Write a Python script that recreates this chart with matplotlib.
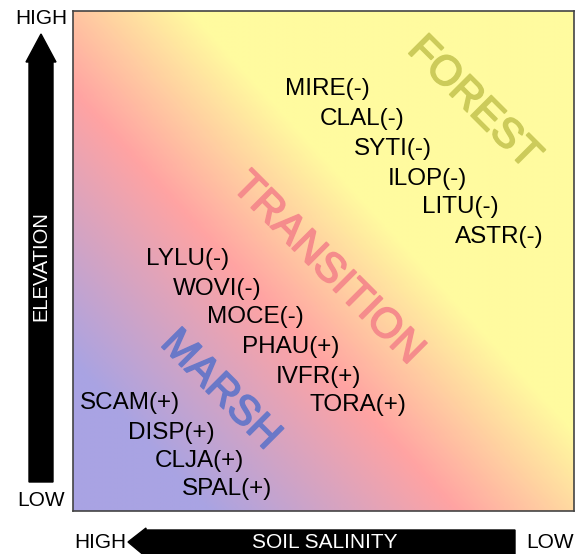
import numpy as np
import matplotlib
matplotlib.use('Agg')
import matplotlib.pyplot as plt
import matplotlib.patheffects as pe
from matplotlib.colors import LinearSegmentedColormap
from matplotlib.patches import Polygon

plt.rcParams['font.family'] = ['Liberation Sans', 'DejaVu Sans']

# Species labels, placed by salinity (x, 0 = high salinity) and elevation (y)
species = ['MIRE(-)', 'CLAL(-)', 'SYTI(-)', 'ILOP(-)', 'LITU(-)', 'ASTR(-)',
           'LYLU(-)', 'WOVI(-)', 'MOCE(-)', 'PHAU(+)', 'IVFR(+)', 'TORA(+)',
           'SCAM(+)', 'DISP(+)', 'CLJA(+)', 'SPAL(+)']
sp_x = [0.508, 0.578, 0.638, 0.708, 0.774, 0.850,
        0.228, 0.288, 0.364, 0.434, 0.490, 0.568,
        0.114, 0.196, 0.252, 0.308]
sp_y = [0.844, 0.784, 0.725, 0.665, 0.607, 0.549,
        0.505, 0.445, 0.387, 0.327, 0.269, 0.212,
        0.216, 0.156, 0.100, 0.044]

# Zone names
zones = ['FOREST', 'TRANSITION', 'MARSH']
zone_x = [0.80, 0.508, 0.294]
zone_y = [0.816, 0.485, 0.242]
zone_colors = ['#cccb5a', '#f58c8c', '#6a78c8']

# Background gradient colours
grad_colors = [(0.0, '#a9a3e3'), (0.14, '#a9a3e3'), (0.40, '#ffa3a3'),
               (0.60, '#fffb9f'), (1.0, '#fffb9f')]
cmap = LinearSegmentedColormap.from_list('zone', grad_colors)

W, H = 580, 554
fig = plt.figure(figsize=(W / 100, H / 100), dpi=100)
fig.patch.set_facecolor('white')

# Main box
ax = fig.add_axes([73 / W, (H - 511) / H, 501 / W, 500 / H])
gx, gy = np.meshgrid(np.linspace(0, 1, 400), np.linspace(0, 1, 400))
t = (1.37 * gx + 1.25 * gy) / 2.62
ax.imshow(t, cmap=cmap, origin='lower', extent=[0, 1, 0, 1],
          aspect='auto', interpolation='bilinear', vmin=0, vmax=1)
ax.set_xlim(0, 1)
ax.set_ylim(0, 1)
ax.set_xticks([])
ax.set_yticks([])
for s in ax.spines.values():
    s.set_color('#444444')
    s.set_linewidth(1.2)

for name, x, y, c in zip(zones, zone_x, zone_y, zone_colors):
    ax.text(x, y, name, fontsize=30, color=c, rotation=-45,
            rotation_mode='anchor', ha='center', va='center',
            path_effects=[pe.withStroke(linewidth=1.2, foreground=c)])

for name, x, y in zip(species, sp_x, sp_y):
    ax.text(x, y, name, fontsize=17.5, color='black', ha='center', va='center')

# Overlay in pixel coordinates for the axis arrows
ov = fig.add_axes([0, 0, 1, 1], facecolor='none')
ov.set_xlim(0, W)
ov.set_ylim(H, 0)
ov.axis('off')

# Elevation arrow (vertical)
ov.add_patch(Polygon([(29, 482), (53, 482), (53, 62), (56, 62), (41, 34),
                      (26, 62), (29, 62)], closed=True, color='black'))
ov.text(41, 266, 'ELEVATION', rotation=90, color='white', fontsize=14.5,
        ha='center', va='center')
ov.text(41, 18, 'HIGH', fontsize=15, ha='center', va='center')
ov.text(41, 501, 'LOW', fontsize=15, ha='center', va='center')

# Soil salinity arrow (horizontal)
ov.add_patch(Polygon([(515, 530), (515, 556), (146, 556), (146, 557),
                      (128, 542), (146, 528), (146, 530)], closed=True,
                     color='black'))
ov.text(325, 542, 'SOIL SALINITY', color='white', fontsize=15,
        ha='center', va='center')
ov.text(100, 542, 'HIGH', fontsize=15, ha='center', va='center')
ov.text(550, 542, 'LOW', fontsize=15, ha='center', va='center')

fig.savefig('out.png', dpi=100)
